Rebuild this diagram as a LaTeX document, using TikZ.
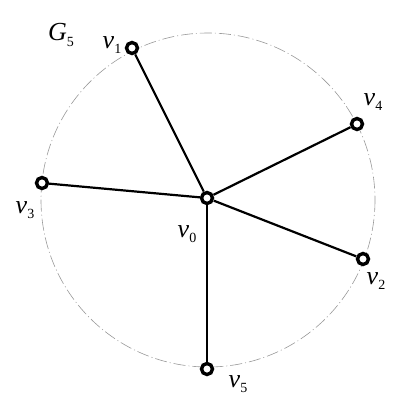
\documentclass[tikz,border=0pt]{standalone}
\usepackage{fontspec}
\setmainfont{Liberation Serif}
\newcommand\vlab[2]{\textit{#1}\raisebox{-0.45ex}{\fontsize{14}{14}\selectfont #2}}
\tikzset{
  vtx/.style={circle,draw=black,fill=white,line width=3.4pt,minimum size=11pt,inner sep=0pt},
  edge/.style={line width=2.2pt},
  lab/.style={font=\fontsize{26}{28}\selectfont,inner sep=0pt},
  rim/.style={draw=gray!80,line width=0.6pt,dash pattern=on 12pt off 3pt on 1pt off 3pt}
}
\begin{document}
\begin{tikzpicture}[x=1pt,y=-1pt]
\useasboundingbox (0,0) rectangle (400,400);
\draw[rim] (208,200) circle (167);
\node[vtx] (v0) at (207,198) {};
\node[vtx] (v1) at (132,48) {};
\node[vtx] (v2) at (363,259) {};
\node[vtx] (v3) at (42,183) {};
\node[vtx] (v4) at (357,124) {};
\node[vtx] (v5) at (207,369) {};
\draw[edge] (v0) -- (v1);
\draw[edge] (v0) -- (v2);
\draw[edge] (v0) -- (v3);
\draw[edge] (v0) -- (v4);
\draw[edge] (v0) -- (v5);
\node[lab] (g5) at (61,35) {\vlab{G}{5}};
\node[lab] (l1) at (112,45) {\vlab{v}{1}};
\node[lab] (l4) at (373,102) {\vlab{v}{4}};
\node[lab] (l3) at (25,210) {\vlab{v}{3}};
\node[lab] (l0) at (187,234) {\vlab{v}{0}};
\node[lab] (l2) at (376,281) {\vlab{v}{2}};
\node[lab] (l5) at (238,384) {\vlab{v}{5}};
\end{tikzpicture}
\end{document}
